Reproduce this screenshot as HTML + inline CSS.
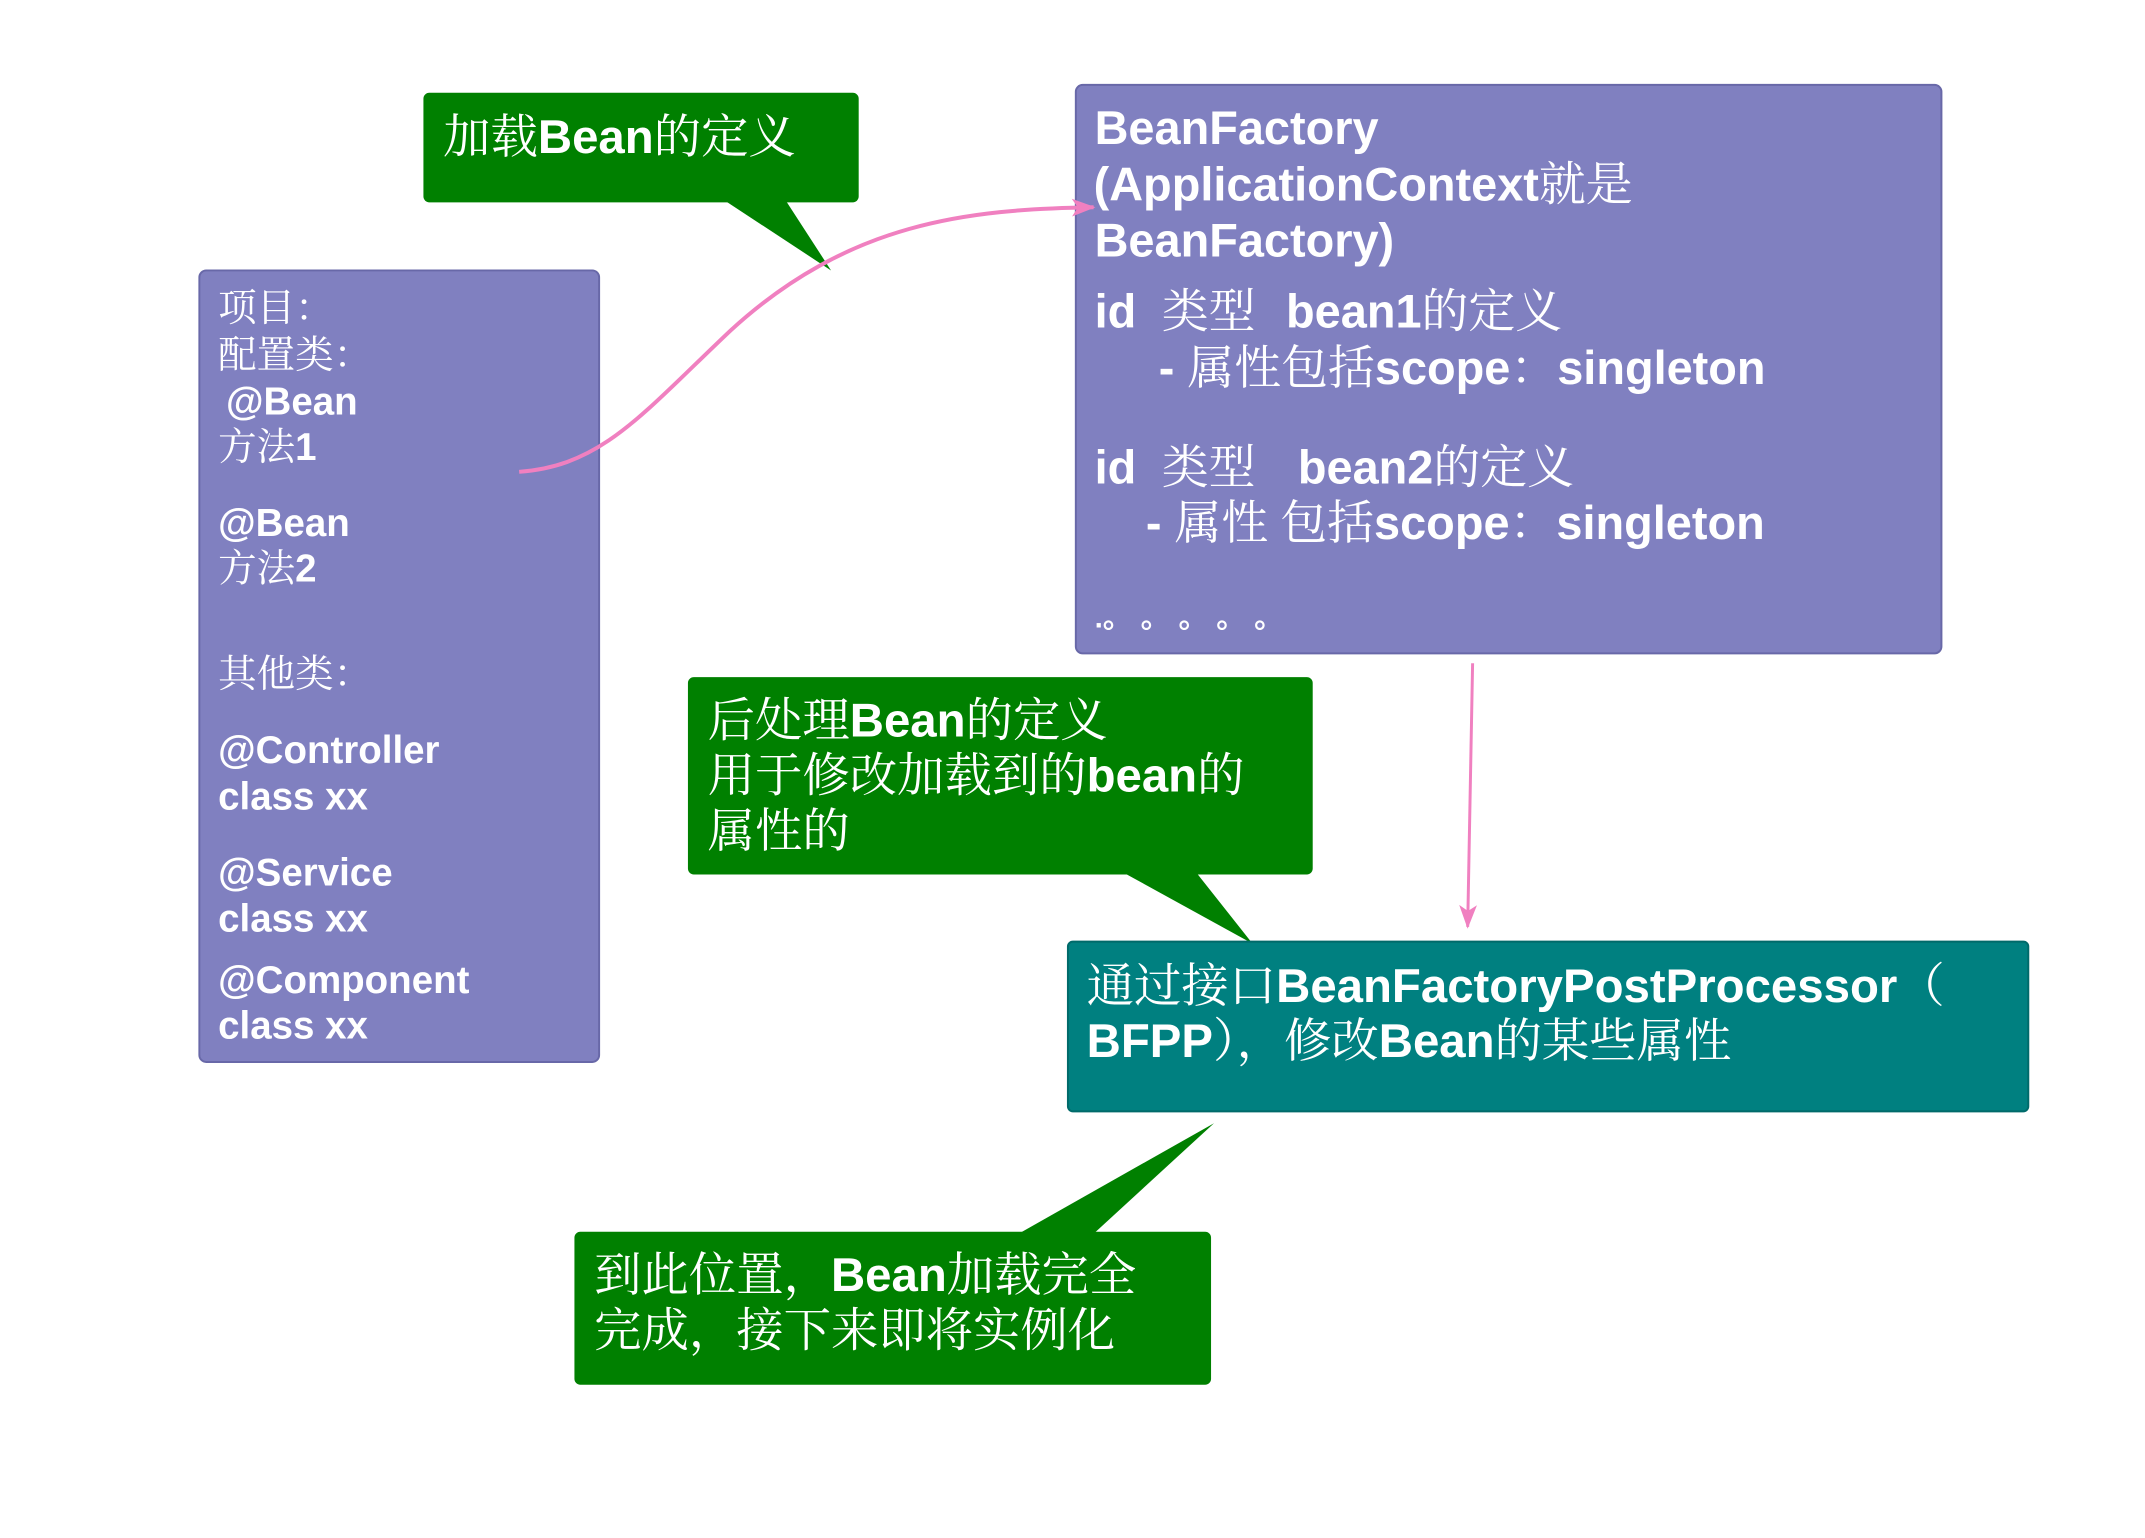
<!DOCTYPE html>
<html><head><meta charset="utf-8"><style>
html,body{margin:0;padding:0;background:#fff;}
svg{display:block;}
text{font-family:"Liberation Sans","Noto Sans CJK SC",sans-serif;font-weight:bold;fill:#fff;}
.n{font-weight:normal;font-family:"Noto Serif CJK SC","Noto Sans CJK SC",serif;}
</style></head><body>
<svg width="2145" height="1538" viewBox="0 0 2145 1538" xmlns="http://www.w3.org/2000/svg">
<defs>
<marker id="ah2" markerWidth="24" markerHeight="18" refX="22" refY="9" orient="auto" markerUnits="userSpaceOnUse">
<path d="M0,0 L24,9 L0,18 L6,9 Z" fill="#f080c0"/>
</marker>
</defs>
<g transform="scale(0.987)">
<rect x="429" y="94" width="441" height="111" rx="6" fill="#008000"/>
<polygon points="734,203 796,203 842,274" fill="#008000"/>
<text x="449" y="155" font-size="48"><tspan class="n">加载</tspan>Bean<tspan class="n">的定义</tspan></text>

<rect x="202" y="274" width="405" height="802" rx="7" fill="#8080c0" stroke="#6868a8" stroke-width="2"/>
<g font-size="39">
<text x="221" y="325" class="n">项目：</text>
<text x="221" y="373" class="n">配置类：</text>
<text x="229" y="420">@Bean</text>
<text x="221" y="466"><tspan class="n">方法</tspan>1</text>
<text x="221" y="543">@Bean</text>
<text x="221" y="589"><tspan class="n">方法</tspan>2</text>
<text x="221" y="696" class="n">其他类：</text>
<text x="221" y="773">@Controller</text>
<text x="221" y="820">class xx</text>
<text x="221" y="897">@Service</text>
<text x="221" y="944">class xx</text>
<text x="221" y="1006">@Component</text>
<text x="221" y="1052">class xx</text>
</g>

<rect x="1090" y="86" width="877" height="576" rx="7" fill="#8080c0" stroke="#6868a8" stroke-width="2"/>
<g font-size="47.5">
<text x="1109" y="146">BeanFactory</text>
<text x="1108" y="203">(ApplicationContext<tspan class="n">就是</tspan></text>
<text x="1109" y="260">BeanFactory)</text>
<text x="1109" y="332">id</text><text x="1177" y="332" class="n">类型</text><text x="1303" y="332">bean1<tspan class="n">的定义</tspan></text>
<text x="1174" y="389">- <tspan class="n">属性包括</tspan>scope<tspan class="n">：</tspan>singleton</text>
<text x="1109" y="490">id</text><text x="1177" y="490" class="n">类型</text><text x="1315" y="490">bean2<tspan class="n">的定义</tspan></text>
<text x="1161" y="546">- <tspan class="n">属性 包括</tspan>scope<tspan class="n">：</tspan>singleton</text>
<text x="1109" y="636" font-size="30">.。 。 。 。 。</text>
</g>

<rect x="697" y="686" width="633" height="200" rx="6" fill="#008000"/>
<polygon points="1138,884 1212,884 1269,956" fill="#008000"/>
<g font-size="48">
<text x="717" y="746"><tspan class="n">后处理</tspan>Bean<tspan class="n">的定义</tspan></text>
<text x="717" y="802"><tspan class="n">用于修改加载到的</tspan>bean<tspan class="n">的</tspan></text>
<text x="717" y="858" class="n">属性的</text>
</g>

<rect x="1082" y="954" width="973" height="172" rx="5" fill="#008080" stroke="#006a6a" stroke-width="2"/>
<g font-size="48">
<text x="1101" y="1015"><tspan class="n">通过接口</tspan>BeanFactoryPostProcessor<tspan class="n">（</tspan></text>
<text x="1101" y="1071">BFPP<tspan class="n">），修改</tspan>Bean<tspan class="n">的某些属性</tspan></text>
</g>

<rect x="582" y="1248" width="645" height="155" rx="6" fill="#008000"/>
<polygon points="1032,1250 1108,1250 1230,1138" fill="#008000"/>
<g font-size="48">
<text x="602" y="1308"><tspan class="n">到此位置，</tspan>Bean<tspan class="n">加载完全</tspan></text>
<text x="602" y="1364" class="n">完成，接下来即将实例化</text>
</g>

<path d="M526,478 C610,472 650,420 740,335 C860,225 980,212 1108,210" fill="none" stroke="#f080c0" stroke-width="4" marker-end="url(#ah2)"/>
<line x1="1492" y1="672" x2="1487" y2="939" stroke="#f080c0" stroke-width="3" marker-end="url(#ah2)"/>
</g>
</svg>
</body></html>
